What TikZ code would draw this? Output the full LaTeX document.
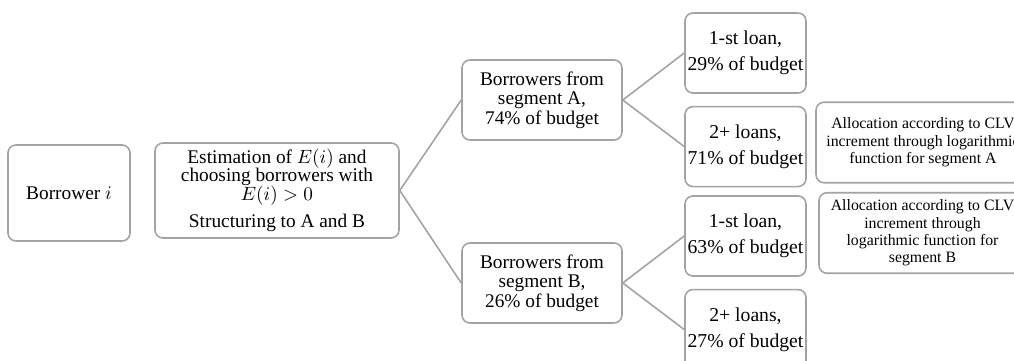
\documentclass[tikz,border=0pt]{standalone}
\usepackage{fontspec}
\setmainfont{Liberation Serif}
\usepackage{tikz}
\usetikzlibrary{positioning}
\definecolor{boxgray}{HTML}{A3A3A3}
\definecolor{linkgray}{HTML}{A3A3A3}

\begin{document}
\begin{tikzpicture}[x=0.02cm, y=-0.02cm,
  box/.style={draw=boxgray, line width=0.9pt, rounded corners=4.5pt,
    align=center, inner sep=1pt, text=black},
  mainfont/.style={font=\fontsize{11}{11.2}\selectfont},
  loanbox/.style={box, minimum width=2.42cm, minimum height=1.6cm,
    font=\fontsize{11.2}{14.8}\selectfont},
  allocbox/.style={box, minimum height=1.61cm,
    font=\fontsize{9}{9.9}\selectfont},
  link/.style={draw=linkgray, line width=0.9pt}]

  % Frame
  \useasboundingbox (0,0) rectangle (1014,361);
  \clip (0,0) rectangle (1014,361);

  % Borrower and estimation
  \node[box, mainfont, minimum width=2.44cm, minimum height=1.92cm]
    (bor) at (69,193) {Borrower $i$};
  \node[box, minimum width=4.88cm, minimum height=1.9cm,
    font=\fontsize{11}{10.6}\selectfont]
    (est) at (277,190.5)
    {Estimation of $E(i)$ and\\choosing borrowers with\\$E(i) > 0$\\[5pt]
     Structuring to A and B};

  % Segments
  \node[box, mainfont, minimum width=3.2cm, minimum height=1.6cm]
    (segA) at (542,100) {Borrowers from\\segment A,\\74\% of budget};
  \node[box, mainfont, minimum width=3.2cm, minimum height=1.6cm]
    (segB) at (542,283) {Borrowers from\\segment B,\\26\% of budget};

  % Loans
  \node[loanbox] (loanA1) at (745.5,53) {1-st loan,\\29\% of budget};
  \node[loanbox, below=0.24cm of loanA1] (loanA2) {2+ loans,\\71\% of budget};
  \node[loanbox] (loanB1) at (745.5,236) {1-st loan,\\63\% of budget};
  \node[loanbox, below=0.24cm of loanB1] (loanB2) {2+ loans,\\27\% of budget};

  % Allocation rules
  \node[allocbox, minimum width=4.28cm] (allocA) at (923,142.5)
    {Allocation according to CLV\\increment through logarithmic\\function for segment A};
  \node[allocbox, minimum width=4.14cm] (allocB) at (922.5,233)
    {Allocation according to CLV\\increment through\\logarithmic function for\\segment B};

  % Links
  \draw[link] (est.east) -- (segA.west);
  \draw[link] (est.east) -- (segB.west);
  \draw[link] (segA.east) -- (loanA1.west);
  \draw[link] (segA.east) -- (loanA2.west);
  \draw[link] (segB.east) -- (loanB1.west);
  \draw[link] (segB.east) -- (loanB2.west);
\end{tikzpicture}
\end{document}
